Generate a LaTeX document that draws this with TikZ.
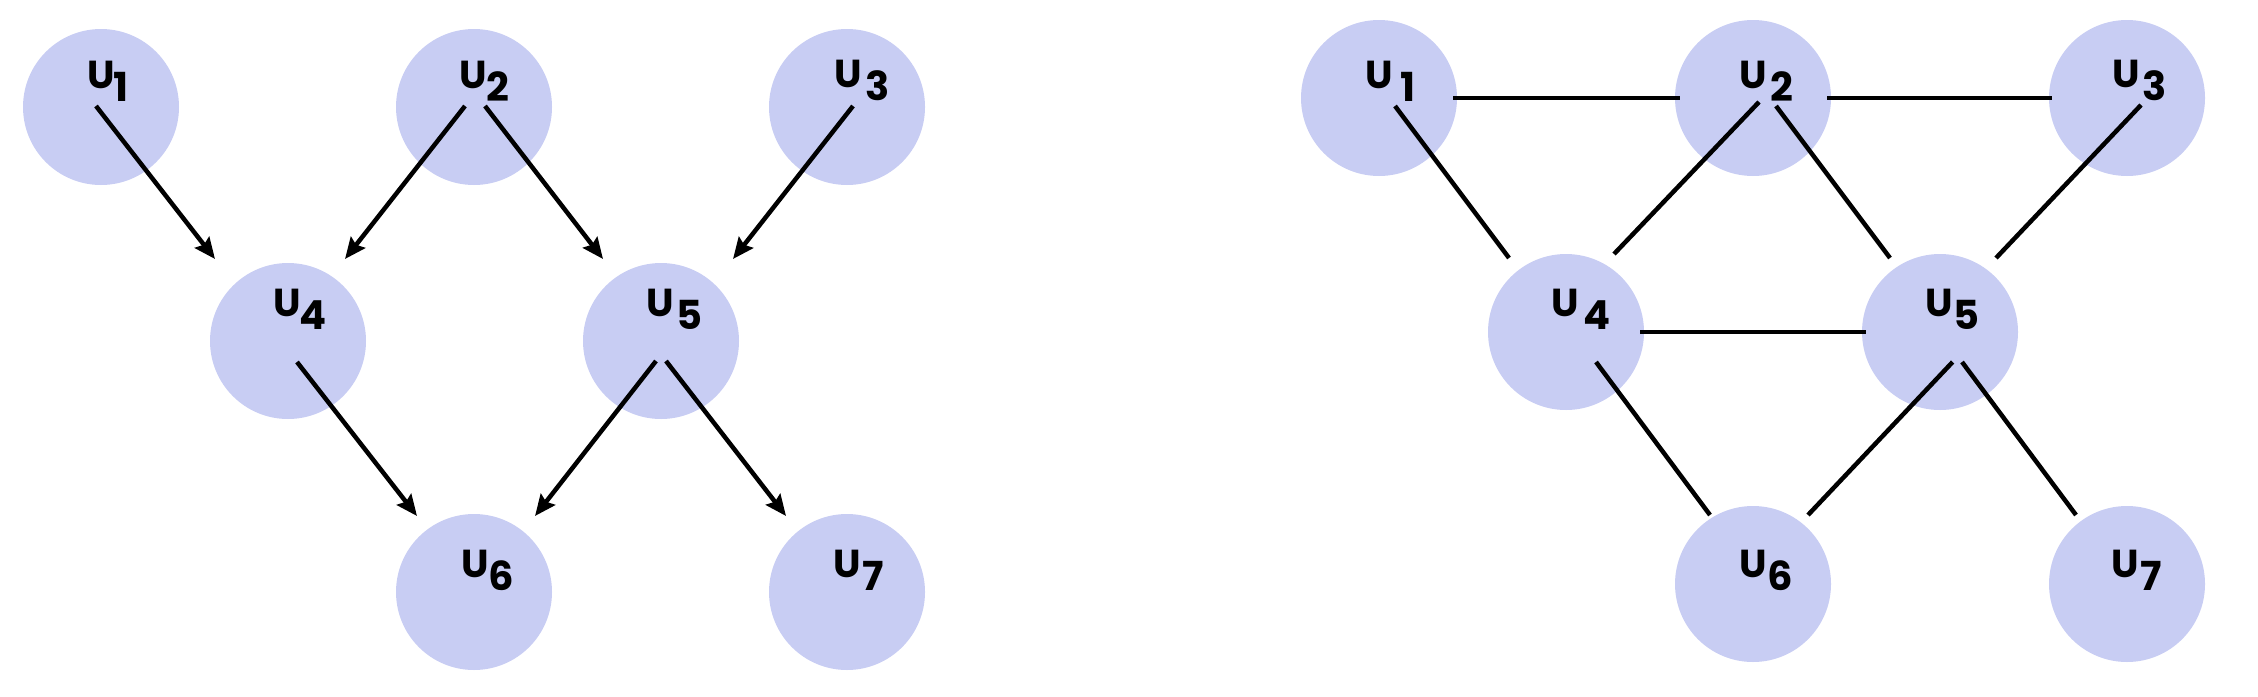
\documentclass[tikz,border=0pt]{standalone}
\usepackage{fontspec}
\setmainfont{Poppins}
\usetikzlibrary{calc,arrows.meta}
\definecolor{nodefill}{RGB}{200,205,243}
\newcommand\ulab[2]{{\fontsize{39}{39}\selectfont U}\kern#2pt\raisebox{-13pt}{\fontsize{40}{40}\selectfont #1}}
\tikzset{
  circ/.style={circle,fill=nodefill,minimum size=156pt,inner sep=0pt},
  lab/.style={anchor=base west,inner sep=0pt,font=\bfseries},
  arr/.style={line width=4.5pt,-{Stealth[length=21pt,width=18pt,inset=3pt]}},
  edge/.style={line width=4.5pt}
}
\begin{document}
\begin{tikzpicture}[x=1pt,y=-1pt]
\useasboundingbox (0,0) rectangle (2258,696);
% left graph
\node[circ] (l1) at (101,107) {};
\node[circ] (l2) at (474,107) {};
\node[circ] (l3) at (847,107) {};
\node[circ] (l4) at (288,341) {};
\node[circ] (l5) at (661,341) {};
\node[circ] (l6) at (474,592) {};
\node[circ] (l7) at (847,592) {};
\node[lab] (l1t) at (87,88) {\ulab{1}{-1}};
\node[lab] (l2t) at (459,88) {\ulab{2}{0}};
\node[lab] (l3t) at (834,87) {\ulab{3}{4}};
\node[lab] (l4t) at (273,316) {\ulab{4}{-1}};
\node[lab] (l5t) at (646.5,316) {\ulab{5}{2}};
\node[lab] (l6t) at (461,577) {\ulab{6}{0}};
\node[lab] (l7t) at (833,577) {\ulab{7}{2}};
\draw[arr] ($(l1)+(-5,-1)$) -- ($(l4)+(-73,-82)$);
\draw[arr] ($(l2)+(-9,-1)$) -- ($(l4)+(57,-82)$);
\draw[arr] ($(l2)+(11,-1)$) -- ($(l5)+(-58,-82)$);
\draw[arr] ($(l3)+(6,-1)$) -- ($(l5)+(72,-82)$);
\draw[arr] ($(l4)+(9,21)$) -- ($(l6)+(-57,-76)$);
\draw[arr] ($(l5)+(-5,20)$) -- ($(l6)+(61,-76)$);
\draw[arr] ($(l5)+(5,20)$) -- ($(l7)+(-61,-76)$);
% right graph
\node[circ] (r1) at (1379,98) {};
\node[circ] (r2) at (1753,98) {};
\node[circ] (r3) at (2127,98) {};
\node[circ] (r4) at (1566,332) {};
\node[circ] (r5) at (1940,332) {};
\node[circ] (r6) at (1753,584) {};
\node[circ] (r7) at (2127,584) {};
\node[lab] (r1t) at (1365,88) {\ulab{1}{8}};
\node[lab] (r2t) at (1739,88) {\ulab{2}{4}};
\node[lab] (r3t) at (2112,87) {\ulab{3}{3}};
\node[lab] (r4t) at (1551.5,316) {\ulab{4}{4.5}};
\node[lab] (r5t) at (1925,316) {\ulab{5}{0.5}};
\node[lab] (r6t) at (1739,577) {\ulab{6}{1}};
\node[lab] (r7t) at (2111,577) {\ulab{7}{2}};
\draw[edge] ($(r1)+(74,0)$) -- ($(r2)+(-73.5,0)$);
\draw[edge] ($(r2)+(74,0)$) -- ($(r3)+(-75,0)$);
\draw[edge] ($(r4)+(74,0)$) -- ($(r5)+(-74,0)$);
\draw[edge] ($(r1)+(16,8)$) -- ($(r4)+(-57,-74)$);
\draw[edge] ($(r2)+(6,4)$) -- ($(r4)+(48,-78)$);
\draw[edge] ($(r2)+(23,8)$) -- ($(r5)+(-50,-74)$);
\draw[edge] ($(r3)+(14,7)$) -- ($(r5)+(56,-74)$);
\draw[edge] ($(r4)+(30,30)$) -- ($(r6)+(-43,-69)$);
\draw[edge] ($(r5)+(12.6,30)$) -- ($(r6)+(55,-69)$);
\draw[edge] ($(r5)+(22,30)$) -- ($(r7)+(-51,-69)$);
\end{tikzpicture}
\end{document}
